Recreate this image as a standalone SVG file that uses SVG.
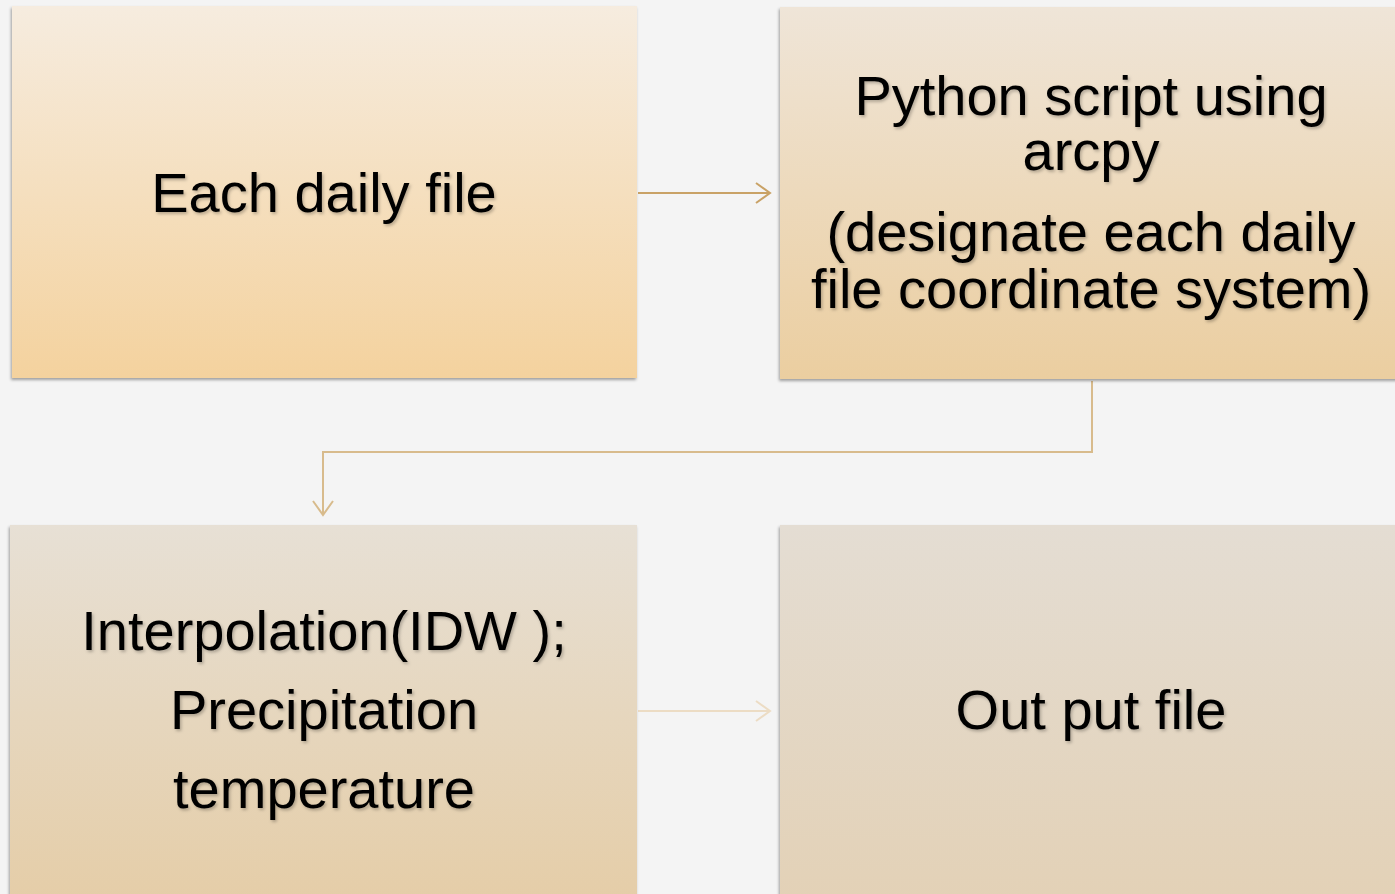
<svg xmlns="http://www.w3.org/2000/svg" width="1395" height="894" viewBox="0 0 1395 894">
<defs>
<linearGradient id="g1" x1="0" y1="0" x2="0" y2="1"><stop offset="0" stop-color="#f6ecdf"/><stop offset="1" stop-color="#f4d29e"/></linearGradient>
<linearGradient id="g2" x1="0" y1="0" x2="0" y2="1"><stop offset="0" stop-color="#efe5d8"/><stop offset="1" stop-color="#ebcea0"/></linearGradient>
<linearGradient id="g3" x1="0" y1="0" x2="0" y2="1"><stop offset="0" stop-color="#e7e0d5"/><stop offset="1" stop-color="#e5cda7"/></linearGradient>
<linearGradient id="g4" x1="0" y1="0" x2="0" y2="1"><stop offset="0" stop-color="#e4ddd3"/><stop offset="1" stop-color="#e3d1b6"/></linearGradient>
<filter id="sh" x="-5%" y="-5%" width="110%" height="110%"><feDropShadow dx="-1" dy="2" stdDeviation="1.5" flood-color="#000" flood-opacity="0.35"/></filter>
<filter id="tsh" x="-5%" y="-20%" width="110%" height="140%"><feDropShadow dx="1.5" dy="2" stdDeviation="1.5" flood-color="#000" flood-opacity="0.25"/></filter>
<marker id="a1" markerWidth="20" markerHeight="24" refX="17" refY="12" orient="auto" markerUnits="userSpaceOnUse"><path d="M3,2 L17,12 L3,22" fill="none" stroke="#c9a266" stroke-width="2"/></marker>
<marker id="a2" markerWidth="20" markerHeight="24" refX="17" refY="12" orient="auto" markerUnits="userSpaceOnUse"><path d="M3,2 L17,12 L3,22" fill="none" stroke="#d8bb8c" stroke-width="2"/></marker>
<marker id="a3" markerWidth="20" markerHeight="24" refX="17" refY="12" orient="auto" markerUnits="userSpaceOnUse"><path d="M3,2 L17,12 L3,22" fill="none" stroke="#ecdcc4" stroke-width="2"/></marker>
</defs>
<style>
.t{font-family:"Liberation Sans",Arial,sans-serif;font-size:56px;fill:#000;text-anchor:middle;filter:url(#tsh)}
.box{filter:url(#sh)}
</style>
<rect width="1395" height="894" fill="#f4f4f4"/>
<g id="connectors" fill="none" stroke-width="2">
<path d="M638,193 H770" stroke="#c9a266" marker-end="url(#a1)"/>
<path d="M1092,381 V452 H323 V515" stroke="#d8bb8c" marker-end="url(#a2)"/>
<path d="M638,711 H770" stroke="#ecdcc4" marker-end="url(#a3)"/>
</g>
<g id="node1"><rect class="box" x="12" y="6" width="625" height="372" fill="url(#g1)"/><text class="t" x="324" y="212">Each daily file</text></g>
<g id="node2"><rect class="box" x="780" y="7" width="625" height="372" fill="url(#g2)"/><text class="t" x="1091" y="115">Python script using</text><text class="t" x="1091" y="170">arcpy</text><text class="t" x="1091" y="251">(designate each daily</text><text class="t" x="1091" y="308">file coordinate system)</text></g>
<g id="node3"><rect class="box" x="10" y="525" width="627" height="380" fill="url(#g3)"/><text class="t" x="324" y="650">Interpolation(IDW );</text><text class="t" x="324" y="729">Precipitation</text><text class="t" x="324" y="808">temperature</text></g>
<g id="node4"><rect class="box" x="780" y="525" width="625" height="380" fill="url(#g4)"/><text class="t" x="1091" y="729">Out put file</text></g>
</svg>
